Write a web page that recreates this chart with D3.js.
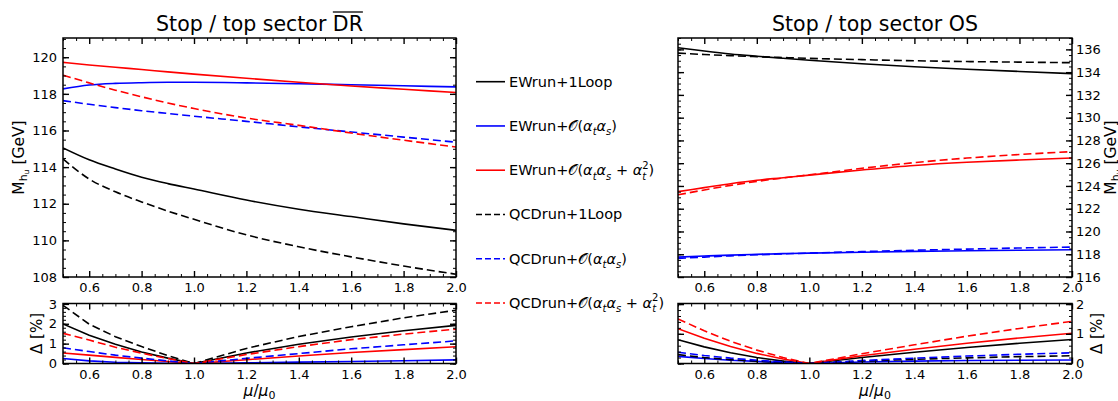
<!DOCTYPE html>
<html>
<head>
<meta charset="utf-8">
<script src="https://cdn.jsdelivr.net/npm/d3@7"></script>
<style>
  body { margin: 0; background: #fff; }
  svg text { font-family: "DejaVu Sans", sans-serif; }
  .tick text { font-size: 13px; fill: #000; font-family: "DejaVu Sans", sans-serif; }
  .tick line { stroke: #000; }
</style>
</head>
<body>
<svg width="1118" height="401"></svg>
<script>
// scale factor mu/mu0 sampled along the curves
const muVals = [0.5, 0.6, 0.7, 0.8, 0.9, 1.0, 1.2, 1.4, 1.6, 1.8, 2.0];

const seriesNames = ["EWrun+1Loop", "EWrun+𝒪(α_tα_s)", "EWrun+𝒪(α_tα_s + α_t^2)",
                     "QCDrun+1Loop", "QCDrun+𝒪(α_tα_s)", "QCDrun+𝒪(α_tα_s + α_t^2)"];
const seriesColors = ["#000", "#0000ff", "#ff0000", "#000", "#0000ff", "#ff0000"];
const seriesDashed = [false, false, false, true, true, true];

// Stop / top sector DR-bar : M_hu [GeV]
const drEw1Loop  = [115.05, 114.4, 113.9, 113.45, 113.1, 112.8, 112.2, 111.7, 111.3, 110.9, 110.55];
const drEwAtAs   = [118.27, 118.48, 118.57, 118.61, 118.63, 118.63, 118.6, 118.55, 118.5, 118.44, 118.38];
const drEwFull   = [119.72, 119.58, 119.45, 119.33, 119.2, 119.08, 118.85, 118.63, 118.43, 118.25, 118.07];
const drQcd1Loop = [114.45, 113.35, 112.65, 112.1, 111.6, 111.15, 110.3, 109.65, 109.1, 108.6, 108.15];
const drQcdAtAs  = [117.63, 117.43, 117.25, 117.08, 116.93, 116.78, 116.5, 116.2, 115.92, 115.64, 115.36];
const drQcdFull  = [119.02, 118.6, 118.2, 117.84, 117.5, 117.2, 116.68, 116.28, 115.86, 115.47, 115.1];

// DR-bar : Delta [%]
const drEw1LoopD  = [1.99, 1.42, 0.97, 0.58, 0.27, 0, 0.53, 0.97, 1.33, 1.65, 1.92];
const drEwAtAsD   = [0.25, 0.13, 0.06, 0.03, 0.01, 0, 0.03, 0.07, 0.1, 0.14, 0.18];
const drEwFullD   = [0.53, 0.42, 0.31, 0.2, 0.1, 0, 0.19, 0.38, 0.55, 0.7, 0.84];
const drQcd1LoopD = [2.93, 1.98, 1.35, 0.85, 0.4, 0, 0.76, 1.36, 1.85, 2.3, 2.68];
const drQcdAtAsD  = [0.79, 0.6, 0.42, 0.27, 0.13, 0, 0.26, 0.5, 0.74, 0.94, 1.14];
const drQcdFullD  = [1.52, 1.18, 0.82, 0.52, 0.25, 0, 0.45, 0.85, 1.2, 1.48, 1.73];

// Stop / top sector OS : M_hu [GeV]
const osEw1Loop  = [136.15, 135.86, 135.6, 135.4, 135.22, 135.05, 134.74, 134.48, 134.26, 134.06, 133.87];
const osEwAtAs   = [117.75, 117.84, 117.92, 117.99, 118.05, 118.1, 118.18, 118.25, 118.3, 118.35, 118.39];
const osEwFull   = [123.5, 123.85, 124.2, 124.5, 124.72, 124.95, 125.4, 125.8, 126.08, 126.28, 126.45];
const osQcd1Loop = [135.67, 135.55, 135.45, 135.36, 135.28, 135.21, 135.1, 135.0, 134.93, 134.88, 134.83];
const osQcdAtAs  = [117.63, 117.75, 117.86, 117.95, 118.03, 118.1, 118.23, 118.35, 118.45, 118.55, 118.63];
const osQcdFull  = [123.22, 123.65, 124.05, 124.4, 124.7, 124.98, 125.55, 126.05, 126.45, 126.76, 127.02];

// OS : Delta [%]
const osEw1LoopD  = [0.8, 0.56, 0.36, 0.2, 0.08, 0, 0.2, 0.38, 0.54, 0.68, 0.81];
const osEwAtAsD   = [0.24, 0.17, 0.11, 0.07, 0.03, 0, 0.05, 0.08, 0.1, 0.11, 0.12];
const osEwFullD   = [1.17, 0.85, 0.57, 0.34, 0.15, 0, 0.26, 0.48, 0.68, 0.86, 1.02];
const osQcd1LoopD = [0.3, 0.2, 0.13, 0.08, 0.04, 0, 0.08, 0.14, 0.19, 0.23, 0.26];
const osQcdAtAsD  = [0.38, 0.27, 0.18, 0.11, 0.05, 0, 0.1, 0.18, 0.25, 0.31, 0.36];
const osQcdFullD  = [1.5, 1.1, 0.75, 0.45, 0.2, 0, 0.33, 0.63, 0.92, 1.18, 1.42];

const xTicks = [0.6, 0.8, 1.0, 1.2, 1.4, 1.6, 1.8, 2.0];

const svg = d3.select("svg");

function range(a, b, step) {
  const out = [];
  for (let v = a; v <= b + 1e-9; v += step) out.push(+v.toFixed(4));
  return out;
}

function panel(opts) {
  const { x0, x1, y0, y1, yDomain, yMajor, yMinor, series, curve, labelSide } = opts;
  const w = x1 - x0, h = y1 - y0;
  const g = svg.append("g").attr("transform", `translate(${x0},${y0})`);
  const x = d3.scaleLinear().domain([0.5, 2.0]).range([0, w]);
  const y = d3.scaleLinear().domain(yDomain).range([h, 0]);

  const clipId = "clip" + Math.round(x0) + "_" + Math.round(y0);
  g.append("clipPath").attr("id", clipId).append("rect").attr("width", w).attr("height", h);

  const line = d3.line().x((d, i) => x(muVals[i])).y(d => y(d)).curve(curve);
  const lines = g.append("g").attr("clip-path", `url(#${clipId})`);
  series.forEach((s, i) => {
    lines.append("path")
      .attr("d", line(s))
      .attr("fill", "none")
      .attr("stroke", seriesColors[i])
      .attr("stroke-width", 1.6)
      .attr("stroke-dasharray", seriesDashed[i] ? "8,4" : null);
  });

  // minor ticks first, then majors
  const xMinor = range(0.5, 2.0, 0.05).filter(v => !xTicks.some(t => Math.abs(t - v) < 1e-6));
  const addAx = (axis, tr, cls) => {
    const a = g.append("g").attr("transform", tr).call(axis);
    a.attr("font-family", null).attr("font-size", null);
    a.select(".domain").remove();
    a.selectAll(".tick line").attr("stroke-width", cls === "major" ? 1.4 : 1);
    return a;
  };
  addAx(d3.axisBottom(x).tickValues(xMinor).tickSize(-3).tickFormat(""), `translate(0,${h})`, "minor");
  addAx(d3.axisTop(x).tickValues(xMinor).tickSize(-3).tickFormat(""), "translate(0,0)", "minor");
  addAx(d3.axisBottom(x).tickValues(xTicks).tickSize(-6).tickPadding(6).tickFormat(d3.format(".1f")), `translate(0,${h})`, "major");
  addAx(d3.axisTop(x).tickValues(xTicks).tickSize(-6).tickFormat(""), "translate(0,0)", "major");

  addAx(d3.axisLeft(y).tickValues(yMinor).tickSize(-3).tickFormat(""), "translate(0,0)", "minor");
  addAx(d3.axisRight(y).tickValues(yMinor).tickSize(-3).tickFormat(""), `translate(${w},0)`, "minor");
  if (labelSide === "left") {
    addAx(d3.axisLeft(y).tickValues(yMajor).tickSize(-6).tickPadding(6).tickFormat(d3.format("d")), "translate(0,0)", "major");
    addAx(d3.axisRight(y).tickValues(yMajor).tickSize(-6).tickFormat(""), `translate(${w},0)`, "major");
  } else {
    addAx(d3.axisLeft(y).tickValues(yMajor).tickSize(-6).tickFormat(""), "translate(0,0)", "major");
    addAx(d3.axisRight(y).tickValues(yMajor).tickSize(-6).tickPadding(4).tickFormat(d3.format("d")), `translate(${w},0)`, "major");
  }

  g.append("rect").attr("width", w).attr("height", h)
    .attr("fill", "none").attr("stroke", "#000").attr("stroke-width", 1.5);
  return g;
}

// text with _x subscripts and ^x superscripts
function mathText(sel, str, size) {
  const sub = Math.round(size * 0.7);
  let off = 0, lastSub = null;
  for (let i = 0; i < str.length; i++) {
    const c = str[i];
    if (c === "_") {
      const ch = str[++i];
      sel.append("tspan").attr("dy", size * 0.3 - off).attr("font-size", sub).attr("font-style", "italic").text(ch);
      off = size * 0.3; lastSub = ch;
      continue;
    }
    if (c === "^") {
      const ch = str[++i];
      const t = sel.append("tspan").attr("dy", -size * 0.45 - off).attr("font-size", sub).text(ch);
      if (lastSub) t.attr("dx", -sub * 0.4);
      off = -size * 0.45; lastSub = null;
      continue;
    }
    const greek = /[α-ω]/.test(c);
    sel.append("tspan").attr("dy", -off).attr("font-style", greek ? "italic" : null).text(c);
    off = 0; lastSub = null;
  }
}

function yLabel(xp, yp, size) {
  const t = svg.append("text").attr("transform", `translate(${xp},${yp}) rotate(-90)`)
    .attr("text-anchor", "middle").attr("font-size", size);
  t.append("tspan").text("M");
  t.append("tspan").attr("font-size", size * 0.7).attr("dy", 3).text("h");
  t.append("tspan").attr("font-size", size * 0.5).attr("dy", 2).text("u");
  t.append("tspan").attr("dy", -5).text(" [GeV]");
}

function deltaLabel(xp, yp) {
  svg.append("text").attr("transform", `translate(${xp},${yp}) rotate(-90)`)
    .attr("text-anchor", "middle").attr("font-size", 15).text("Δ [%]");
}

function xLabel(xp) {
  const t = svg.append("text").attr("x", xp).attr("y", 396).attr("text-anchor", "middle").attr("font-size", 15.5);
  t.append("tspan").attr("font-style", "italic").text("μ");
  t.append("tspan").text("/");
  t.append("tspan").attr("font-style", "italic").text("μ");
  t.append("tspan").attr("font-size", 11).attr("dy", 3).text("0");
}

const LX0 = 63, LX1 = 456, RX0 = 678, RX1 = 1072;
const TY0 = 38, TY1 = 277, BY0 = 303.5, BY1 = 363.5;

panel({ x0: LX0, x1: LX1, y0: TY0, y1: TY1, yDomain: [108, 121.05],
  yMajor: range(108, 120, 2), yMinor: range(108, 121, 0.5),
  series: [drEw1Loop, drEwAtAs, drEwFull, drQcd1Loop, drQcdAtAs, drQcdFull],
  curve: d3.curveMonotoneX, labelSide: "left" });
panel({ x0: LX0, x1: LX1, y0: BY0, y1: BY1, yDomain: [0, 3.02],
  yMajor: [0, 1, 2, 3], yMinor: range(0, 3, 0.2),
  series: [drEw1LoopD, drEwAtAsD, drEwFullD, drQcd1LoopD, drQcdAtAsD, drQcdFullD],
  curve: d3.curveLinear, labelSide: "left" });
panel({ x0: RX0, x1: RX1, y0: TY0, y1: TY1, yDomain: [116, 137],
  yMajor: range(116, 136, 2), yMinor: range(116, 137, 0.5),
  series: [osEw1Loop, osEwAtAs, osEwFull, osQcd1Loop, osQcdAtAs, osQcdFull],
  curve: d3.curveMonotoneX, labelSide: "right" });
panel({ x0: RX0, x1: RX1, y0: BY0, y1: BY1, yDomain: [0, 2.02],
  yMajor: [0, 1, 2], yMinor: range(0, 2, 0.2),
  series: [osEw1LoopD, osEwAtAsD, osEwFullD, osQcd1LoopD, osQcdAtAsD, osQcdFullD],
  curve: d3.curveLinear, labelSide: "right" });

// titles
const tl = svg.append("text").attr("x", (LX0 + LX1) / 2).attr("y", 31)
  .attr("text-anchor", "middle").attr("font-size", 20.5).text("Stop / top sector DR");
const n = tl.text().length;
const s0 = tl.node().getStartPositionOfChar(n - 2).x;
const e0 = tl.node().getEndPositionOfChar(n - 1).x;
svg.append("line").attr("x1", s0).attr("x2", e0).attr("y1", 12).attr("y2", 12)
  .attr("stroke", "#000").attr("stroke-width", 1.3);
svg.append("text").attr("x", (RX0 + RX1) / 2).attr("y", 31)
  .attr("text-anchor", "middle").attr("font-size", 20.5).text("Stop / top sector OS");

yLabel(24, (TY0 + TY1) / 2, 15.5);
yLabel(1116, (TY0 + TY1) / 2, 15.5);
deltaLabel(42, (BY0 + BY1) / 2);
deltaLabel(1102, (BY0 + BY1) / 2);
xLabel((LX0 + LX1) / 2);
xLabel((RX0 + RX1) / 2);

// legend
const legend = svg.append("g");
seriesNames.forEach((name, i) => {
  const yy = 81.7 + i * 44.26;
  legend.append("line").attr("x1", 476).attr("x2", 505).attr("y1", yy).attr("y2", yy)
    .attr("stroke", seriesColors[i]).attr("stroke-width", 1.6)
    .attr("stroke-dasharray", seriesDashed[i] ? "6,3" : null);
  const t = legend.append("text").attr("x", 509).attr("y", yy + 5).attr("font-size", 14.5);
  mathText(t, name, 14.5);
});
</script>
</body>
</html>
